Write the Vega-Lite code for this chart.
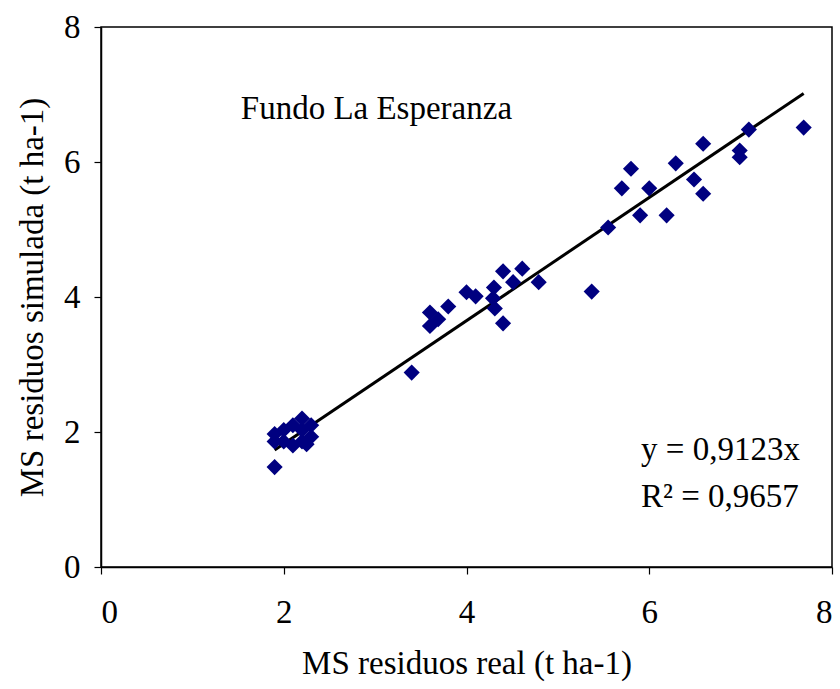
{
  "$schema": "https://vega.github.io/schema/vega-lite/v6.json",
  "width": 731,
  "height": 540,
  "autosize": "none",
  "padding": {"left": 101, "top": 27, "right": 8, "bottom": 122},
  "background": "white",
  "config": {
    "view": {"stroke": "#000000", "strokeWidth": 1.5},
    "font": "Liberation Serif",
    "axis": {
      "grid": false,
      "domainColor": "#000000",
      "domainWidth": 1.5,
      "tickColor": "#000000",
      "tickSize": 7,
      "tickWidth": 1.2,
      "format": "d",
      "labelFont": "Liberation Serif",
      "labelFontSize": 33,
      "labelColor": "#000000",
      "titleFont": "Liberation Serif",
      "titleFontSize": 33,
      "titleFontWeight": "normal",
      "titleColor": "#000000"
    }
  },
  "datasets": {
    "obs": [
      {"real": 1.9, "sim": 1.48},
      {"real": 1.9, "sim": 1.86},
      {"real": 1.9, "sim": 1.97},
      {"real": 2.0, "sim": 1.86},
      {"real": 2.0, "sim": 2.03},
      {"real": 2.1, "sim": 1.8},
      {"real": 2.1, "sim": 2.1},
      {"real": 2.2, "sim": 2.2},
      {"real": 2.2, "sim": 2.03},
      {"real": 2.2, "sim": 1.86},
      {"real": 2.3, "sim": 2.1},
      {"real": 2.3, "sim": 1.93},
      {"real": 2.25, "sim": 1.82},
      {"real": 3.4, "sim": 2.88},
      {"real": 3.6, "sim": 3.57},
      {"real": 3.6, "sim": 3.77},
      {"real": 3.69, "sim": 3.67},
      {"real": 3.8, "sim": 3.86},
      {"real": 4.0, "sim": 4.07},
      {"real": 4.1, "sim": 4.01},
      {"real": 4.3, "sim": 4.14},
      {"real": 4.29, "sim": 3.98},
      {"real": 4.31, "sim": 3.83},
      {"real": 4.4, "sim": 3.61},
      {"real": 4.4, "sim": 4.38},
      {"real": 4.51, "sim": 4.22},
      {"real": 4.61, "sim": 4.42},
      {"real": 4.79, "sim": 4.22},
      {"real": 5.37, "sim": 4.08},
      {"real": 5.55, "sim": 5.03},
      {"real": 5.7, "sim": 5.61},
      {"real": 5.8, "sim": 5.9},
      {"real": 5.9, "sim": 5.21},
      {"real": 6.0, "sim": 5.61},
      {"real": 6.19, "sim": 5.21},
      {"real": 6.29, "sim": 5.98},
      {"real": 6.49, "sim": 5.74},
      {"real": 6.59, "sim": 5.53},
      {"real": 6.59, "sim": 6.27},
      {"real": 6.99, "sim": 6.17},
      {"real": 6.99, "sim": 6.07},
      {"real": 7.09, "sim": 6.48},
      {"real": 7.69, "sim": 6.51}
    ],
    "trend": [
      {"real": 1.9, "sim": 1.733},
      {"real": 7.69, "sim": 7.016}
    ]
  },
  "layer": [
    {
      "data": {"name": "trend"},
      "mark": {"type": "line", "color": "#000000", "strokeWidth": 3},
      "encoding": {
        "x": {
          "field": "real", "type": "quantitative",
          "scale": {"domain": [0, 8], "nice": false, "zero": false},
          "axis": {"values": [0, 2, 4, 6, 8], "title": "MS residuos real (t ha-1)", "labelPadding": 22, "titlePadding": 18}
        },
        "y": {
          "field": "sim", "type": "quantitative",
          "scale": {"domain": [0, 8], "nice": false, "zero": false},
          "axis": {"values": [0, 2, 4, 6, 8], "title": "MS residuos simulada (t ha-1)", "labelPadding": 14, "titlePadding": 14}
        }
      }
    },
    {
      "data": {"name": "obs"},
      "mark": {"type": "point", "shape": "diamond", "filled": true, "size": 260, "color": "#000080", "opacity": 1},
      "encoding": {
        "x": {"field": "real", "type": "quantitative"},
        "y": {"field": "sim", "type": "quantitative"}
      }
    },
    {
      "data": {"values": [{"label": "Fundo La Esperanza"}]},
      "mark": {"type": "text", "align": "left", "baseline": "middle", "fontSize": 33, "font": "Liberation Serif", "color": "#000000"},
      "encoding": {
        "x": {"datum": 1.53, "type": "quantitative"},
        "y": {"datum": 6.79, "type": "quantitative"},
        "text": {"field": "label"}
      }
    },
    {
      "data": {"values": [{"label": "y = 0,9123x", "px": 5.91, "py": 1.73}, {"label": "R² = 0,9657", "px": 5.91, "py": 1.04}]},
      "mark": {"type": "text", "align": "left", "baseline": "middle", "fontSize": 33, "font": "Liberation Serif", "color": "#000000"},
      "encoding": {
        "x": {"field": "px", "type": "quantitative"},
        "y": {"field": "py", "type": "quantitative"},
        "text": {"field": "label"}
      }
    }
  ]
}
